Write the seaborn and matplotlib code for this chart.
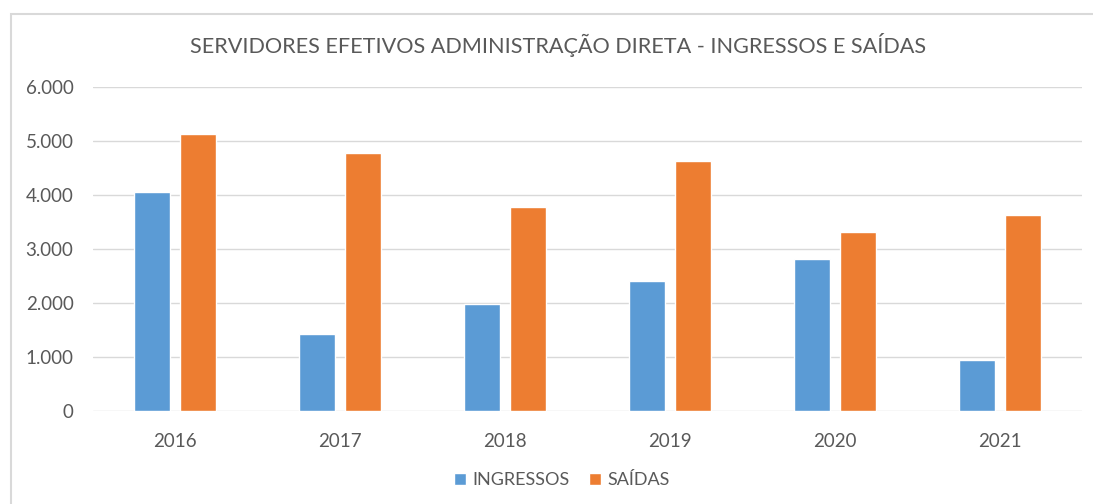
import pandas as pd
import matplotlib
matplotlib.use("Agg")
import matplotlib.pyplot as plt
from matplotlib.ticker import FuncFormatter
from matplotlib.patches import Rectangle
import seaborn as sns

# dados
anos = ["2016", "2017", "2018", "2019", "2020", "2021"]
ingressos = [4050, 1420, 1990, 2400, 2810, 950]
saidas = [5130, 4780, 3780, 4630, 3320, 3630]

df = pd.DataFrame({"ano": anos * 2,
                   "valor": ingressos + saidas,
                   "tipo": ["INGRESSOS"] * len(anos) + ["SAÍDAS"] * len(anos)})

sns.set_style("white")
plt.rcParams["font.family"] = ["Lato", "DejaVu Sans"]
cinza = "#595959"

fig = plt.figure(figsize=(10.93, 5.04), dpi=100)
ax = fig.add_axes([93 / 1093, 1 - 411 / 504, (1082 - 93) / 1093, (411 - 87) / 504])

sns.barplot(data=df, x="ano", y="valor", hue="tipo", ax=ax,
            palette=["#5B9BD5", "#ED7D31"], width=0.56, gap=0.22,
            saturation=1, legend=True)

ax.set_ylim(0, 6000)
ax.set_yticks(range(0, 6001, 1000))
ax.yaxis.set_major_formatter(FuncFormatter(lambda v, p: f"{int(v):,}".replace(",", ".")))
ax.grid(axis="y", color="#D9D9D9", linewidth=1)
ax.set_axisbelow(True)
for s in ax.spines.values():
    s.set_visible(False)
ax.tick_params(axis="y", length=0, pad=14, labelsize=13.5, labelcolor=cinza)
ax.tick_params(axis="x", length=0, pad=16, labelsize=13.5, labelcolor=cinza)
ax.set_xlabel("")
ax.set_ylabel("")

ax.legend_.remove()
handles, labels = ax.get_legend_handles_labels()
fig.legend(handles, labels, loc="center", bbox_to_anchor=(0.514, 1 - 480 / 504),
           ncol=2, frameon=False, fontsize=13, labelcolor=cinza,
           handlelength=0.65, handleheight=0.65, handletextpad=0.35, columnspacing=1.1)

fig.text(0.511, 1 - 45 / 504, "SERVIDORES EFETIVOS ADMINISTRAÇÃO DIRETA - INGRESSOS E SAÍDAS",
         ha="center", va="center", fontsize=15.6, color=cinza)

# moldura do gráfico
fig.patches.append(Rectangle((11 / 1093, -0.1), 1.2, 1 - 14 / 504 + 0.1,
                             transform=fig.transFigure, fill=False,
                             edgecolor="#D9D9D9", linewidth=1.5))

fig.savefig("out.png", dpi=100, facecolor="white")
